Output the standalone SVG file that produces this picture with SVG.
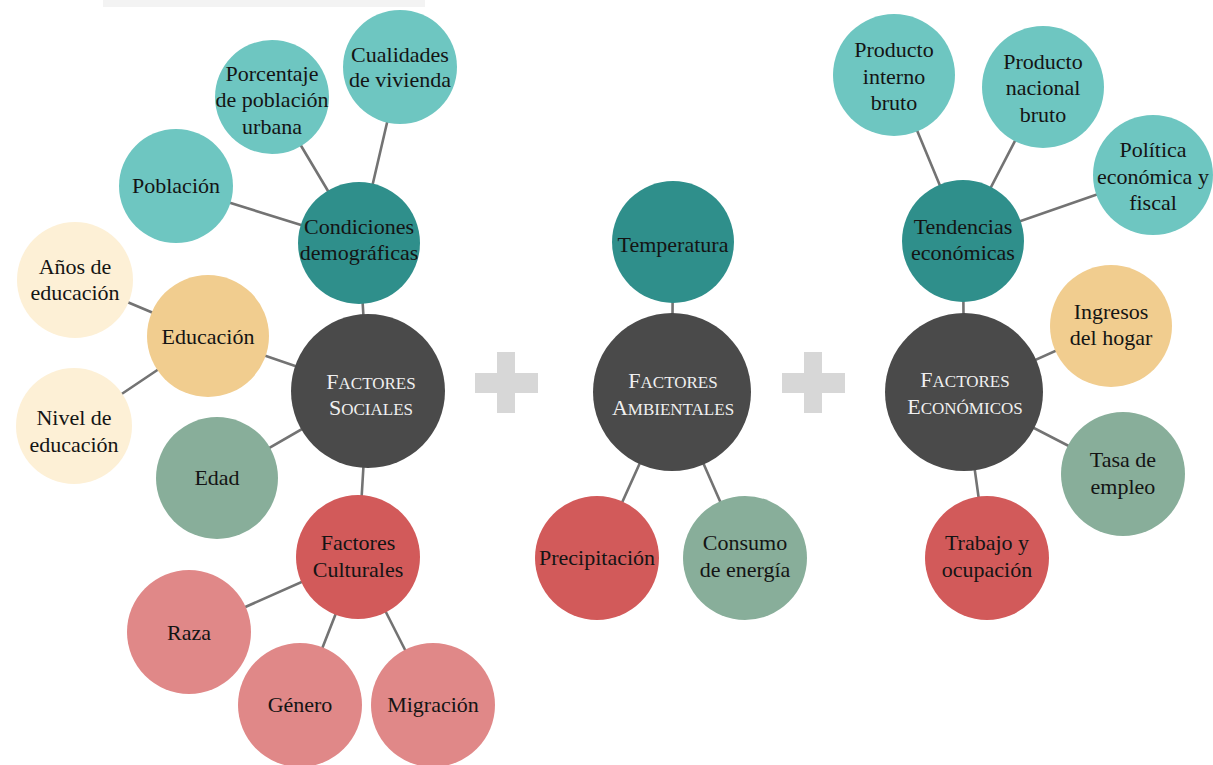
<svg xmlns="http://www.w3.org/2000/svg" width="1213" height="765" viewBox="0 0 1213 765">
  <style>
    .bg { fill: #ffffff; }
    .strip { fill: #f3f3f3; }
    .link { stroke: #737373; stroke-width: 2.6; stroke-linecap: round; fill: none; }
    .teal-l { fill: #6ec6c1; }
    .teal-d { fill: #2f8f8b; }
    .core { fill: #4a4a4a; }
    .peach { fill: #f1cd8f; }
    .cream { fill: #fdf0d6; }
    .sage { fill: #88ae9a; }
    .red { fill: #d25a5a; }
    .pink { fill: #e08888; }
    .plus { fill: #d7d7d7; }
    text { font-size: 22px; fill: #141414; text-anchor: middle; }
    .core-label { fill: #f0f0f0; font-size: 17px; }
    .core-label .cap { font-size: 22px; }
  </style>

  <rect class="bg" x="0" y="0" width="1213" height="765"/>
  <rect class="strip" x="103" y="0" width="322" height="7"/>

  <!-- plus signs between the three groups -->
  <g id="plus-1">
    <rect class="plus" x="497" y="352" width="18" height="61"/>
    <rect class="plus" x="475" y="373" width="63" height="20"/>
  </g>
  <g id="plus-2">
    <rect class="plus" x="804" y="352" width="18" height="61"/>
    <rect class="plus" x="782" y="373" width="63" height="20"/>
  </g>

  <!-- connectors -->
  <g id="connectors">
    <line class="link" x1="176" y1="186" x2="359" y2="243"/>
    <line class="link" x1="272" y1="97" x2="359" y2="243"/>
    <line class="link" x1="400" y1="67" x2="359" y2="243"/>
    <line class="link" x1="359" y1="243" x2="368" y2="391"/>
    <line class="link" x1="75" y1="280" x2="208" y2="336"/>
    <line class="link" x1="74" y1="426" x2="208" y2="336"/>
    <line class="link" x1="208" y1="336" x2="368" y2="391"/>
    <line class="link" x1="217" y1="478" x2="368" y2="391"/>
    <line class="link" x1="368" y1="391" x2="358" y2="557"/>
    <line class="link" x1="189" y1="632" x2="358" y2="557"/>
    <line class="link" x1="300" y1="705" x2="358" y2="557"/>
    <line class="link" x1="433" y1="705" x2="358" y2="557"/>

    <line class="link" x1="673" y1="242" x2="672" y2="392"/>
    <line class="link" x1="672" y1="392" x2="597" y2="558"/>
    <line class="link" x1="672" y1="392" x2="745" y2="558"/>

    <line class="link" x1="894" y1="75" x2="963" y2="241"/>
    <line class="link" x1="1043" y1="87" x2="963" y2="241"/>
    <line class="link" x1="1153" y1="175" x2="963" y2="241"/>
    <line class="link" x1="963" y1="241" x2="964" y2="392"/>
    <line class="link" x1="1111" y1="326" x2="964" y2="392"/>
    <line class="link" x1="1123" y1="474" x2="964" y2="392"/>
    <line class="link" x1="987" y1="558" x2="964" y2="392"/>
  </g>

  <!-- social factors -->
  <g id="poblacion">
    <circle class="teal-l" cx="176" cy="186" r="57"/>
    <text font-family="Liberation Serif" x="176" y="193">Población</text>
  </g>
  <g id="porcentaje-urbana">
    <circle class="teal-l" cx="272" cy="97" r="57"/>
    <text font-family="Liberation Serif" x="272" y="81">Porcentaje</text>
    <text font-family="Liberation Serif" x="272" y="107">de población</text>
    <text font-family="Liberation Serif" x="272" y="134">urbana</text>
  </g>
  <g id="cualidades-vivienda">
    <circle class="teal-l" cx="400" cy="67" r="57"/>
    <text font-family="Liberation Serif" x="400" y="62">Cualidades</text>
    <text font-family="Liberation Serif" x="400" y="87">de vivienda</text>
  </g>
  <g id="condiciones-demograficas">
    <circle class="teal-d" cx="359" cy="243" r="61"/>
    <text font-family="Liberation Serif" x="359" y="234">Condiciones</text>
    <text font-family="Liberation Serif" x="359" y="260">demográficas</text>
  </g>
  <g id="anos-educacion">
    <circle class="cream" cx="75" cy="280" r="58"/>
    <text font-family="Liberation Serif" x="75" y="274">Años de</text>
    <text font-family="Liberation Serif" x="75" y="300">educación</text>
  </g>
  <g id="educacion">
    <circle class="peach" cx="208" cy="336" r="61"/>
    <text font-family="Liberation Serif" x="208" y="344">Educación</text>
  </g>
  <g id="nivel-educacion">
    <circle class="cream" cx="74" cy="426" r="58"/>
    <text font-family="Liberation Serif" x="74" y="425">Nivel de</text>
    <text font-family="Liberation Serif" x="74" y="452">educación</text>
  </g>
  <g id="edad">
    <circle class="sage" cx="217" cy="478" r="61"/>
    <text font-family="Liberation Serif" x="217" y="485">Edad</text>
  </g>
  <g id="factores-sociales">
    <circle class="core" cx="368" cy="391" r="77"/>
    <text font-family="Liberation Serif" class="core-label" x="371" y="389"><tspan class="cap">F</tspan>ACTORES</text>
    <text font-family="Liberation Serif" class="core-label" x="371" y="415"><tspan class="cap">S</tspan>OCIALES</text>
  </g>
  <g id="factores-culturales">
    <circle class="red" cx="358" cy="557" r="62"/>
    <text font-family="Liberation Serif" x="358" y="550">Factores</text>
    <text font-family="Liberation Serif" x="358" y="577">Culturales</text>
  </g>
  <g id="raza">
    <circle class="pink" cx="189" cy="632" r="62"/>
    <text font-family="Liberation Serif" x="189" y="640">Raza</text>
  </g>
  <g id="genero">
    <circle class="pink" cx="300" cy="705" r="62"/>
    <text font-family="Liberation Serif" x="300" y="712">Género</text>
  </g>
  <g id="migracion">
    <circle class="pink" cx="433" cy="705" r="62"/>
    <text font-family="Liberation Serif" x="433" y="712">Migración</text>
  </g>

  <!-- environmental factors -->
  <g id="temperatura">
    <circle class="teal-d" cx="673" cy="242" r="61"/>
    <text font-family="Liberation Serif" x="673" y="252">Temperatura</text>
  </g>
  <g id="factores-ambientales">
    <circle class="core" cx="672" cy="392" r="79"/>
    <text font-family="Liberation Serif" class="core-label" x="673" y="388"><tspan class="cap">F</tspan>ACTORES</text>
    <text font-family="Liberation Serif" class="core-label" x="673" y="415"><tspan class="cap">A</tspan>MBIENTALES</text>
  </g>
  <g id="precipitacion">
    <circle class="red" cx="597" cy="558" r="62"/>
    <text font-family="Liberation Serif" x="597" y="565">Precipitación</text>
  </g>
  <g id="consumo-energia">
    <circle class="sage" cx="745" cy="558" r="62"/>
    <text font-family="Liberation Serif" x="745" y="550">Consumo</text>
    <text font-family="Liberation Serif" x="745" y="577">de energía</text>
  </g>

  <!-- economic factors -->
  <g id="producto-interno-bruto">
    <circle class="teal-l" cx="894" cy="75" r="61"/>
    <text font-family="Liberation Serif" x="894" y="57">Producto</text>
    <text font-family="Liberation Serif" x="894" y="84">interno</text>
    <text font-family="Liberation Serif" x="894" y="110">bruto</text>
  </g>
  <g id="producto-nacional-bruto">
    <circle class="teal-l" cx="1043" cy="87" r="61"/>
    <text font-family="Liberation Serif" x="1043" y="69">Producto</text>
    <text font-family="Liberation Serif" x="1043" y="95">nacional</text>
    <text font-family="Liberation Serif" x="1043" y="122">bruto</text>
  </g>
  <g id="politica-economica">
    <circle class="teal-l" cx="1153" cy="175" r="60"/>
    <text font-family="Liberation Serif" x="1153" y="157">Política</text>
    <text font-family="Liberation Serif" x="1153" y="184">económica y</text>
    <text font-family="Liberation Serif" x="1153" y="210">fiscal</text>
  </g>
  <g id="tendencias-economicas">
    <circle class="teal-d" cx="963" cy="241" r="61"/>
    <text font-family="Liberation Serif" x="963" y="234">Tendencias</text>
    <text font-family="Liberation Serif" x="963" y="260">económicas</text>
  </g>
  <g id="factores-economicos">
    <circle class="core" cx="964" cy="392" r="79"/>
    <text font-family="Liberation Serif" class="core-label" x="965" y="387"><tspan class="cap">F</tspan>ACTORES</text>
    <text font-family="Liberation Serif" class="core-label" x="965" y="414"><tspan class="cap">E</tspan>CONÓMICOS</text>
  </g>
  <g id="ingresos-hogar">
    <circle class="peach" cx="1111" cy="326" r="61"/>
    <text font-family="Liberation Serif" x="1111" y="319">Ingresos</text>
    <text font-family="Liberation Serif" x="1111" y="345">del hogar</text>
  </g>
  <g id="tasa-empleo">
    <circle class="sage" cx="1123" cy="474" r="62"/>
    <text font-family="Liberation Serif" x="1123" y="467">Tasa de</text>
    <text font-family="Liberation Serif" x="1123" y="494">empleo</text>
  </g>
  <g id="trabajo-ocupacion">
    <circle class="red" cx="987" cy="558" r="62"/>
    <text font-family="Liberation Serif" x="987" y="550">Trabajo y</text>
    <text font-family="Liberation Serif" x="987" y="577">ocupación</text>
  </g>
</svg>
